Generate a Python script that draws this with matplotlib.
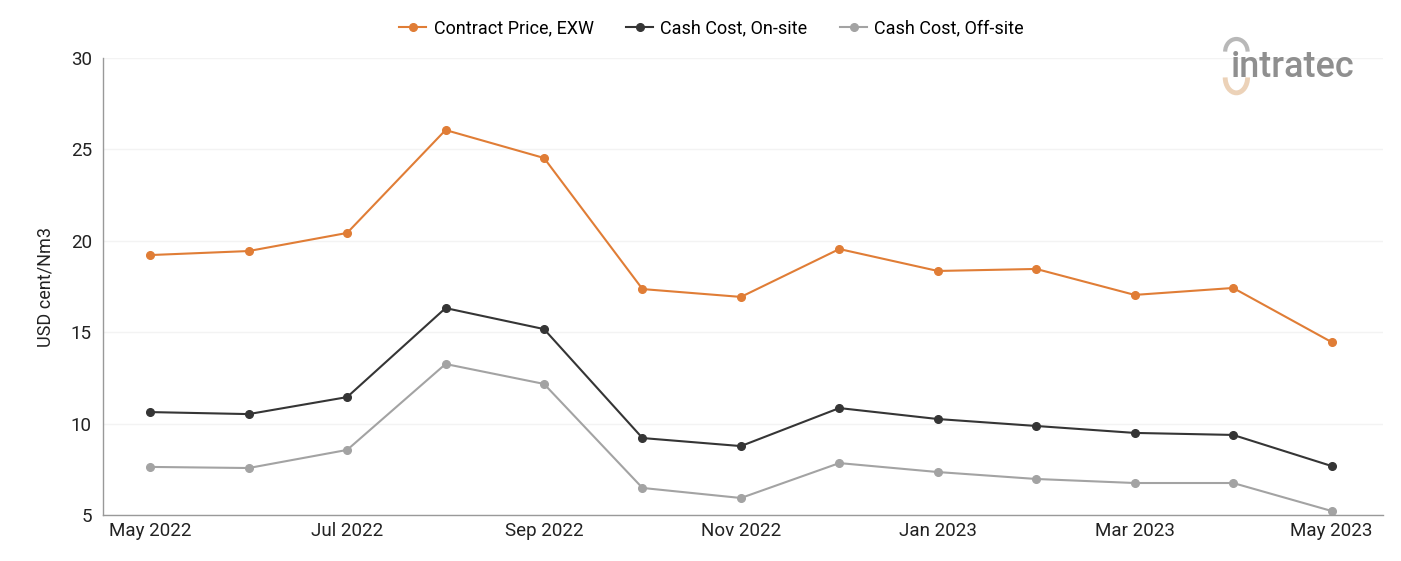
import matplotlib.pyplot as plt
from matplotlib.patches import Arc

plt.rcParams['font.family'] = ['Roboto', 'DejaVu Sans']

months = ["May 2022", "Jun 2022", "Jul 2022", "Aug 2022", "Sep 2022", "Oct 2022",
          "Nov 2022", "Dec 2022", "Jan 2023", "Feb 2023", "Mar 2023", "Apr 2023", "May 2023"]
contract_price = [19.22, 19.44, 20.43, 26.06, 24.53, 17.36, 16.93, 19.55, 18.35, 18.46, 17.04, 17.42, 14.46]
cash_onsite = [10.63, 10.52, 11.45, 16.32, 15.17, 9.21, 8.77, 10.85, 10.25, 9.87, 9.49, 9.38, 7.68]
cash_offsite = [7.63, 7.57, 8.56, 13.26, 12.17, 6.48, 5.93, 7.84, 7.35, 6.97, 6.75, 6.75, 5.22]

x = list(range(len(months)))

fig = plt.figure(figsize=(14.01, 5.61), dpi=100)
ax = fig.add_axes([0.0735, 0.082, 0.9135, 0.8146])

ax.plot(x, contract_price, color="#e07d36", lw=1.5, marker="o", ms=5.5, label="Contract Price, EXW")
ax.plot(x, cash_onsite, color="#353535", lw=1.5, marker="o", ms=5.5, label="Cash Cost, On-site")
ax.plot(x, cash_offsite, color="#a3a3a3", lw=1.5, marker="o", ms=5.5, label="Cash Cost, Off-site")

ax.set_xlim(-0.48, 12.52)
ax.set_ylim(5, 30)
ax.set_yticks([5, 10, 15, 20, 25, 30])
ax.set_xticks(x[::2])
ax.set_xticklabels(months[::2])
ax.tick_params(axis="both", length=0, labelsize=13.5, colors="#222222")
ax.tick_params(axis="x", pad=5)
ax.tick_params(axis="y", pad=8)
ax.set_ylabel("USD cent/Nm3", fontsize=13, color="#222222", labelpad=12)

ax.grid(axis="y", color="#f3f3f3", lw=1)
ax.set_axisbelow(True)
for s in ["top", "right"]:
    ax.spines[s].set_visible(False)
for s in ["left", "bottom"]:
    ax.spines[s].set_color("#999999")
    ax.spines[s].set_linewidth(1)

fig.legend(loc="upper center", bbox_to_anchor=(0.508, 0.995), ncol=3, frameon=False,
           fontsize=13, handlelength=1.5, handletextpad=0.4, columnspacing=1.8)

# logo
fig.text(0.8785, 0.862, "intratec", fontsize=26, color="#8f8f8f", fontweight="medium")
fig.patches.append(Arc((0.8825, 0.862), 0.016, 0.055, theta1=180, theta2=360,
                       transform=fig.transFigure, color="#ecd2b8", lw=3.5))
fig.patches.append(Arc((0.8825, 0.908), 0.016, 0.045, theta1=0, theta2=180,
                       transform=fig.transFigure, color="#b8b8b8", lw=3))

plt.savefig("out.png", dpi=100)
